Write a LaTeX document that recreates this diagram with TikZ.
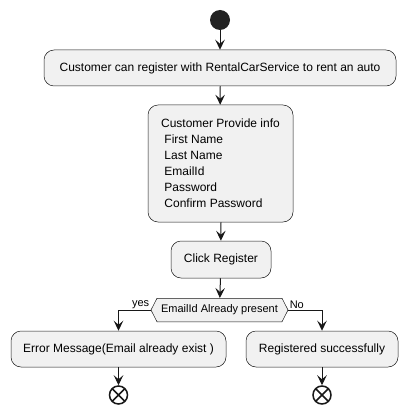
\documentclass[tikz,border=0pt]{standalone}
\usepackage{fontspec}
\setmainfont{Liberation Sans}
\usepackage{xcolor}
\usepackage{tikz}
\usetikzlibrary{arrows.meta}
\usetikzlibrary{shapes.symbols}
\definecolor{umlline}{HTML}{181818}
\definecolor{umlfill}{HTML}{F1F1F1}
\definecolor{umldot}{HTML}{222222}
\tikzset{
  action/.style={draw=umlline, line width=0.5pt, fill=umlfill, rounded corners=10pt,
    minimum height=36pt, inner sep=0pt, font=\fontsize{12}{16}\selectfont},
  decision/.style={signal, signal to=east and west, signal pointer angle=126,
    draw=umlline, line width=0.5pt, fill=umlfill, minimum width=137pt,
    minimum height=23.5pt, inner sep=0pt, font=\fontsize{11}{13}\selectfont},
  flow/.style={-{Stealth[length=10pt,width=9.5pt,inset=4pt]}, line width=1pt, draw=umlline},
  startdot/.style={circle, fill=umldot, minimum size=20pt, inner sep=0pt},
  stopdot/.style={circle, draw=umlline, fill=white, line width=1.5pt, minimum size=18pt, inner sep=0pt,
    path picture={\draw [line width=1.5pt, umlline]
      (path picture bounding box.north west) -- (path picture bounding box.south east)
      (path picture bounding box.north east) -- (path picture bounding box.south west);}},
  branch/.style={font=\fontsize{11}{13}\selectfont, inner sep=1pt}
}

\begin{document}
\begin{tikzpicture}[x=1pt,y=-1pt]

\useasboundingbox (0,0) rectangle (408,417);

\node [startdot] (start) at (220,20) {};
\node [action, minimum width=352pt] (reg) at (220,68) {Customer can register with RentalCarService to rent an auto};
\node [action, minimum width=145pt, minimum height=117pt, align=left] (info) at (220.5,163.5)
  {Customer Provide info\\ \ First Name\\ \ Last Name\\ \ EmailId\\ \ Password\\ \ Confirm Password};
\node [action, minimum width=100pt, minimum height=37pt] (click) at (221,259.5) {Click Register};
\node [decision] (email) at (219.5,310) {EmailId Already present};
\node [action, minimum width=215pt] (err) at (118.5,349) {Error Message(Email already exist )};
\node [action, minimum width=152pt] (ok) at (322,349) {Registered successfully};
\node [stopdot] (stopa) at (118.5,395) {};
\node [stopdot] (stopb) at (322,395) {};

\draw [flow] (start) -- (reg);
\draw [flow] (reg) -- (info);
\draw [flow] (info) -- (click);
\draw [flow] (click) -- (email);
\draw [flow] (email.west) -| node [branch, pos=0, anchor=south east] {yes} (err);
\draw [flow] (email.east) -| node [branch, pos=0, anchor=south west] {No} (ok);
\draw [flow] (err) -- (stopa);
\draw [flow] (ok) -- (stopb);

\end{tikzpicture}
\end{document}
